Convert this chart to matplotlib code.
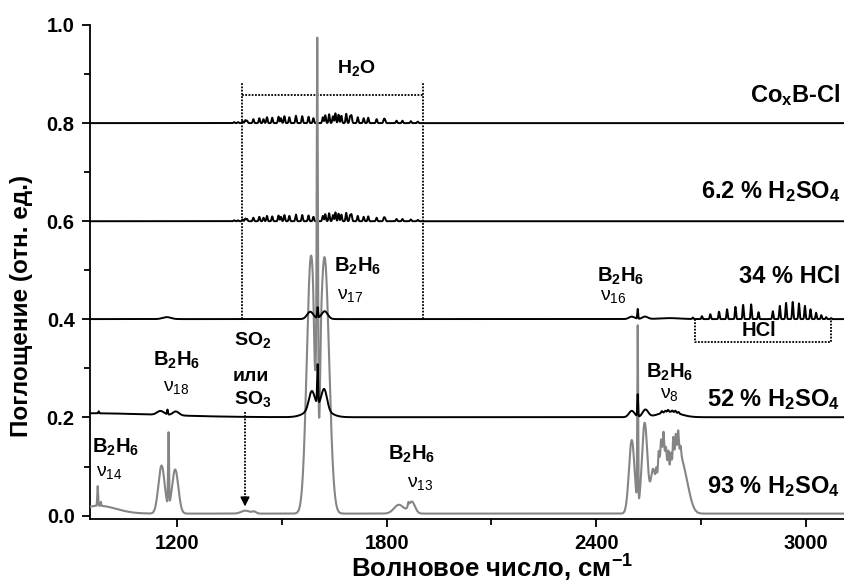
# IR absorption spectra of gas released from Co_xB-Cl in different acids
# Each trace is built from a small peak table (centre, height, width) on a flat baseline.

import numpy as np
import matplotlib
matplotlib.use('Agg')
import matplotlib.pyplot as plt
from matplotlib.ticker import MultipleLocator, FormatStrFormatter

plt.rcParams['font.family'] = ['Liberation Sans', 'DejaVu Sans']
plt.rcParams['mathtext.fontset'] = 'custom'
plt.rcParams['mathtext.rm'] = 'Liberation Sans'
plt.rcParams['mathtext.bf'] = 'Liberation Sans:bold'
plt.rcParams['mathtext.it'] = 'Liberation Sans:italic'

# --- data ---------------------------------------------------------------
# baselines (stack offsets) of the five spectra
baselines = {'CoB': 0.8, 'h2so4_6': 0.6, 'hcl_34': 0.4005, 'h2so4_52': 0.2005, 'h2so4_93': 0.004}

# water vapour lines (H2O bending band) seen on the upper two traces
water_centers = [1363, 1374, 1387, 1395, 1400, 1418, 1435, 1447, 1457, 1472, 1490, 1497, 1507,
                 1521, 1540, 1558, 1576, 1590, 1617, 1624, 1635, 1646, 1653, 1662, 1670, 1684,
                 1695, 1699, 1717, 1734, 1747, 1771, 1792, 1795, 1828, 1845, 1869, 1889]
water_heights = [0.002, 0.002, 0.004, 0.006, 0.005, 0.008, 0.010, 0.008, 0.012, 0.011, 0.013,
                 0.010, 0.014, 0.012, 0.015, 0.014, 0.013, 0.010, 0.012, 0.016, 0.018, 0.014,
                 0.020, 0.017, 0.015, 0.019, 0.013, 0.015, 0.012, 0.010, 0.011, 0.008, 0.007,
                 0.006, 0.005, 0.005, 0.004, 0.003]
water_widths = [1.8] * len(water_centers)

# HCl rotational lines (P and R branches) on the 34 % HCl trace
hcl_centers = [2677, 2703, 2727, 2752, 2775, 2799, 2821, 2844, 2865,
               2906, 2926, 2944, 2963, 2981, 2998, 3014, 3030, 3045, 3059, 3073]
hcl_heights = [0.003, 0.006, 0.010, 0.015, 0.020, 0.025, 0.029, 0.030, 0.014,
               0.016, 0.027, 0.033, 0.035, 0.032, 0.027, 0.020, 0.013, 0.008, 0.004, 0.002]
hcl_widths = [1.6] * len(hcl_centers)

# 34 % HCl: weak B2H6 bands
hcl34_centers = [1170, 1581, 1602, 1622, 2502, 2519, 2540, 2610]
hcl34_heights = [0.004, 0.015, 0.022, 0.016, 0.005, 0.020, 0.005, 0.002]
hcl34_widths = [12, 9, 1.4, 9, 8, 1.2, 8, 30]

# 52 % H2SO4
acid52_centers = [950, 975, 1152, 1172, 1196, 1602, 1585, 1602, 1621, 2502, 2519, 2541, 2610,
                  2588, 2598, 2606, 2618, 2627, 2636]
acid52_heights = [0.008, 0.004, 0.008, 0.010, 0.008, 0.022, 0.035, 0.080, 0.040, 0.013, 0.045,
                  0.015, 0.011, 0.004, 0.003, 0.004, 0.003, 0.004, 0.003]
acid52_widths = [200, 1.2, 10, 1.3, 9, 28, 8, 1.4, 8, 8, 1.2, 8, 30,
                 2, 2, 2, 2, 2, 2]

# 93 % H2SO4 (grey trace)
acid93_centers = [975, 972, 981, 1155, 1175, 1194, 1395, 1420,
                  1583, 1594, 1601, 1607, 1622,
                  1835, 1862, 1872,
                  2502, 2519, 2539, 2562, 2590, 2628, 2652,
                  2572, 2579, 2586, 2593, 2600, 2607, 2614, 2621, 2628, 2635, 2642]
acid93_heights = [0.016, 0.040, 0.008, 0.098, 0.148, 0.090, 0.006, 0.004,
                  0.52, -0.09, 0.67, -0.14, 0.52,
                  0.018, 0.008, 0.024,
                  0.150, 0.360, 0.185, 0.070, 0.130, 0.110, 0.070,
                  0.020, 0.030, 0.025, 0.035, 0.020, 0.030, 0.025, 0.040, 0.030, 0.035, 0.015]
acid93_widths = [50, 1.2, 1.0, 9, 1.3, 9, 12, 6,
                 12, 2.5, 1.5, 2.5, 13,
                 14, 1.5, 9,
                 8, 1.2, 8, 6, 14, 14, 15,
                 1.5, 1.5, 1.5, 1.5, 1.5, 1.5, 1.5, 1.5, 1.5, 1.5, 1.5]

wn = np.arange(950, 3110.01, 0.25)


def spectrum(base, centers, heights, widths):
    y = np.full_like(wn, base)
    for c, h, w in zip(centers, heights, widths):
        y += h * np.exp(-(wn - c) ** 2 / (2 * w ** 2))
    return y


cob = spectrum(baselines['CoB'], water_centers, water_heights, water_widths)
acid6 = spectrum(baselines['h2so4_6'], water_centers,
                 [h * 0.9 for h in water_heights], water_widths)
hcl34 = spectrum(baselines['hcl_34'], hcl34_centers + hcl_centers,
                 hcl34_heights + hcl_heights, hcl34_widths + hcl_widths)
acid52 = spectrum(baselines['h2so4_52'], acid52_centers, acid52_heights, acid52_widths)
acid93 = spectrum(baselines['h2so4_93'], acid93_centers, acid93_heights, acid93_widths)

# --- figure -------------------------------------------------------------
fig = plt.figure(figsize=(8.44, 5.87), dpi=100)
ax = fig.add_axes([90 / 844, 68 / 587, 754 / 844, 494 / 587])

ax.plot(wn, cob, color='black', lw=1.4, zorder=2)
ax.plot(wn, acid6, color='black', lw=1.4, zorder=2)
ax.plot(wn, acid93, color='#858585', lw=1.5, zorder=3)
ax.plot(wn, hcl34, color='black', lw=1.4, zorder=4)
ax.plot(wn, acid52, color='black', lw=1.4, zorder=4)

ax.set_xlim(950, 3110)
ax.set_ylim(-0.007, 1.0)
ax.xaxis.set_major_locator(MultipleLocator(600))
ax.xaxis.set_minor_locator(MultipleLocator(300))
ax.yaxis.set_major_locator(MultipleLocator(0.2))
ax.yaxis.set_minor_locator(MultipleLocator(0.1))
ax.yaxis.set_major_formatter(FormatStrFormatter('%.1f'))

for side in ['top', 'right']:
    ax.spines[side].set_visible(False)
for side in ['left', 'bottom']:
    ax.spines[side].set_linewidth(1.3)
ax.tick_params(which='major', direction='out', length=6, width=1.3, labelsize=14.5, pad=5)
ax.tick_params(which='minor', direction='out', length=4, width=1.3)
for lab in ax.get_xticklabels() + ax.get_yticklabels():
    lab.set_fontweight('bold')

fig.text(0.583, 0.005, 'Волновое число, см$^{\\mathbf{-1}}$', ha='center', va='bottom',
         fontsize=18.5, fontweight='bold')
fig.text(0.026, 0.478, 'Поглощение (отн. ед.)', rotation=90, ha='center', va='center',
         fontsize=17.5, fontweight='bold')

# dotted bracket around the water lines
dot = (0, (1, 0.8))
ax.plot([1385, 1385], [0.4, 0.884], color='black', lw=1.3, ls=dot, zorder=1)
ax.plot([1903, 1903], [0.4, 0.884], color='black', lw=1.3, ls=dot, zorder=1)
ax.plot([1385, 1903], [0.857, 0.857], color='black', lw=1.3, ls=dot, zorder=1)
ax.text(1712, 0.912, 'H$_\\mathbf{2}$O', ha='center', va='center', fontsize=14, fontweight='bold')

# dotted box under the HCl lines
ax.plot([2683, 2683, 3072, 3072], [0.4, 0.354, 0.354, 0.4], color='black', lw=1.3, ls=dot,
        zorder=1)
ax.text(2866, 0.378, 'HCl', ha='center', va='center', fontsize=14.5, fontweight='bold')

# SO2 / SO3 marker
ax.plot([1394, 1394], [0.211, 0.03], color='black', lw=1.3, ls=dot)
ax.annotate('', xy=(1394, 0.013), xytext=(1394, 0.035),
            arrowprops=dict(arrowstyle='-|>', color='black', lw=1.0, mutation_scale=14))
ax.text(1415, 0.357, 'SO$_\\mathbf{2}$', ha='center', va='center', fontsize=14, fontweight='bold')
ax.text(1410, 0.284, 'или', ha='center', va='center', fontsize=14, fontweight='bold')
ax.text(1415, 0.237, 'SO$_\\mathbf{3}$', ha='center', va='center', fontsize=14, fontweight='bold')

# trace names on the right
right_x = 3100
ax.text(right_x, 0.857, 'Co$_\\mathbf{x}$B-Cl', ha='right', va='center', fontsize=17,
        fontweight='bold')
ax.text(right_x, 0.661, '6.2 % H$_\\mathbf{2}$SO$_\\mathbf{4}$', ha='right', va='center',
        fontsize=17, fontweight='bold')
ax.text(right_x, 0.488, '34 % HCl', ha='right', va='center', fontsize=17, fontweight='bold')
ax.text(right_x, 0.237, '52 % H$_\\mathbf{2}$SO$_\\mathbf{4}$', ha='right', va='center',
        fontsize=17, fontweight='bold')
ax.text(right_x, 0.059, '93 % H$_\\mathbf{2}$SO$_\\mathbf{4}$', ha='right', va='center',
        fontsize=17, fontweight='bold')

# B2H6 band assignments
b2h6 = 'B$_\\mathbf{2}$H$_\\mathbf{6}$'
ax.text(1024, 0.139, b2h6, ha='center', va='center', fontsize=14.5, fontweight='bold')
ax.text(968, 0.088, 'ν$_{14}$', ha='left', va='center', fontsize=14)
ax.text(1198, 0.316, b2h6, ha='center', va='center', fontsize=14.5, fontweight='bold')
ax.text(1159, 0.262, 'ν$_{18}$', ha='left', va='center', fontsize=14)
ax.text(1718, 0.508, b2h6, ha='center', va='center', fontsize=14.5, fontweight='bold')
ax.text(1657, 0.449, 'ν$_{17}$', ha='left', va='center', fontsize=14)
ax.text(2469, 0.488, b2h6, ha='center', va='center', fontsize=14.5, fontweight='bold')
ax.text(2411, 0.447, 'ν$_{16}$', ha='left', va='center', fontsize=14)
ax.text(2611, 0.292, b2h6, ha='center', va='center', fontsize=14.5, fontweight='bold')
ax.text(2582, 0.247, 'ν$_8$', ha='left', va='center', fontsize=14)
ax.text(1870, 0.124, b2h6, ha='center', va='center', fontsize=14.5, fontweight='bold')
ax.text(1858, 0.066, 'ν$_{13}$', ha='left', va='center', fontsize=14)

fig.savefig('out.png', dpi=100)
